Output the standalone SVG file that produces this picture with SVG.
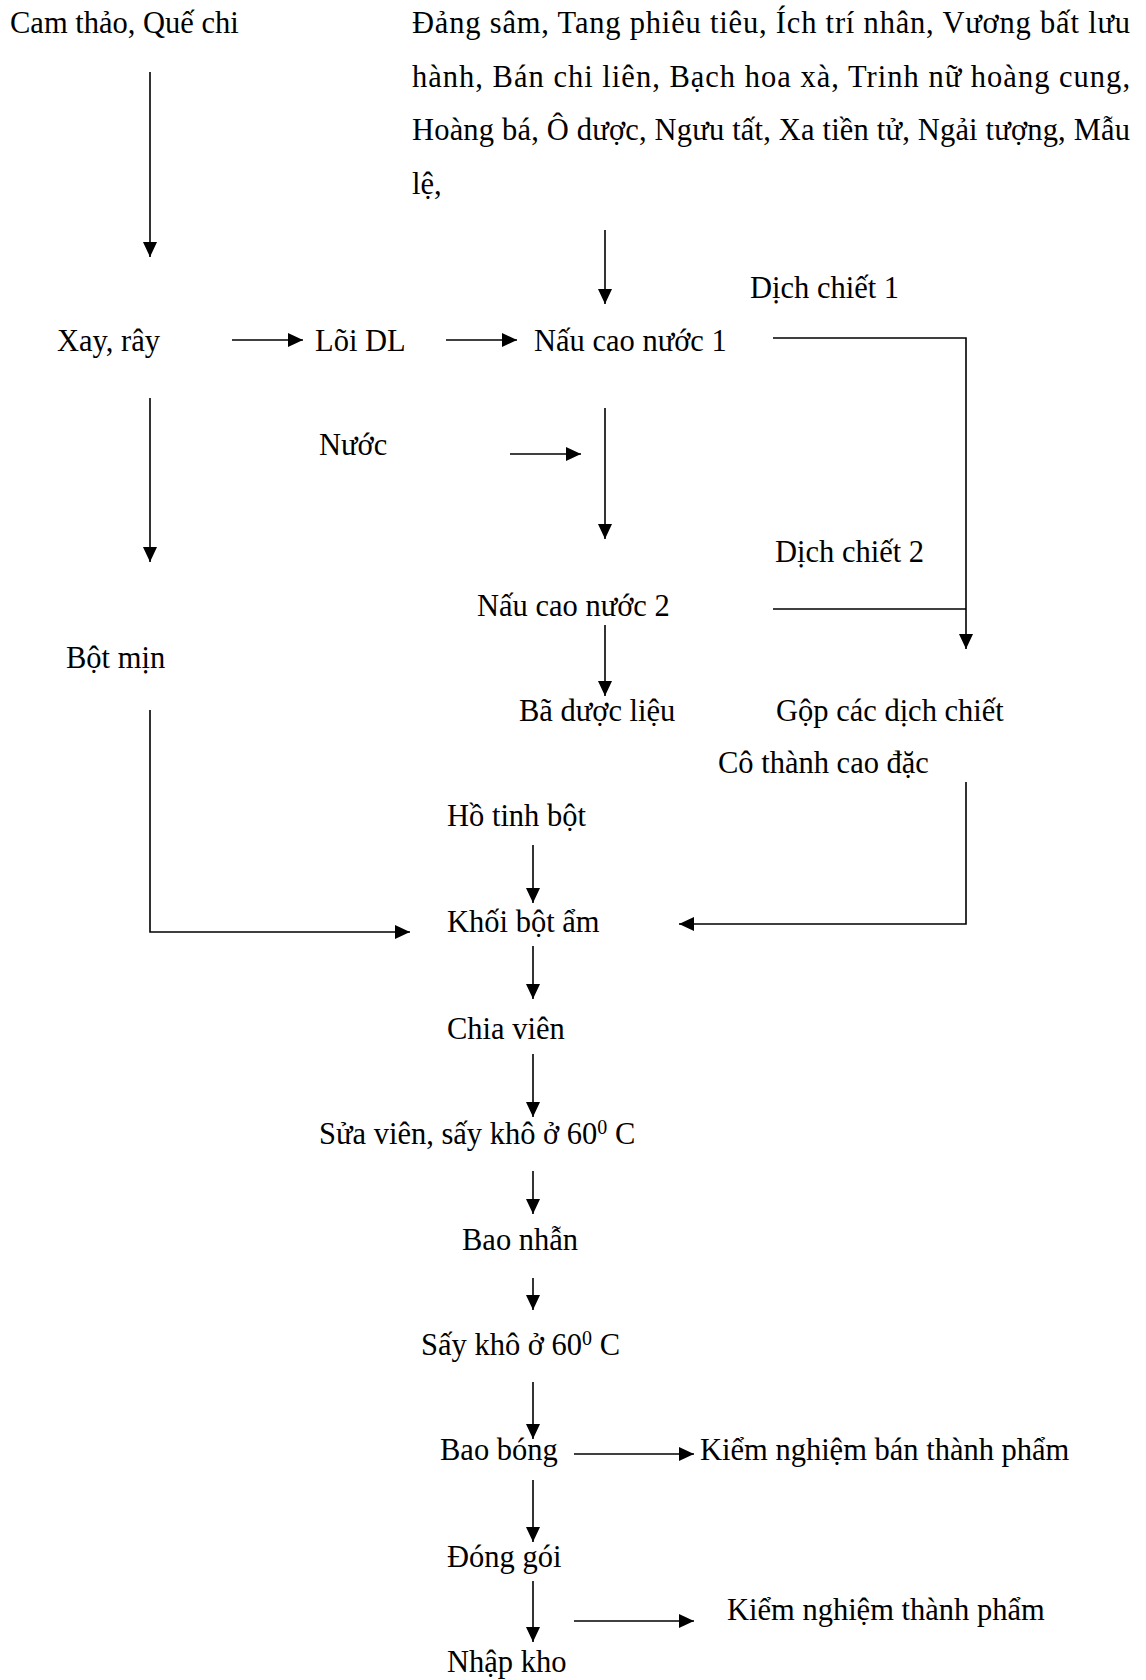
<svg xmlns="http://www.w3.org/2000/svg" width="1146" height="1680" viewBox="0 0 1146 1680">
<style>
  text { font-family: "Liberation Serif", "Times New Roman", serif; font-size: 30.5px; fill: #000; }
  .sup { font-size: 20px; }
  .conn path { fill: none; stroke: #000; stroke-width: 1.6; }
</style>
<defs>
  <marker id="ah" markerUnits="userSpaceOnUse" markerWidth="15" markerHeight="14" refX="15" refY="7" orient="auto" viewBox="0 0 15 14">
    <path d="M0,0 L15,7 L0,14 z" fill="#000"/>
  </marker>
</defs>
<rect width="1146" height="1680" fill="#fff"/>

<g id="n-camthao"><text x="10" y="33">Cam thảo, Quế chi</text></g>
<g id="n-herbs">
  <text x="412" y="33" textLength="718" lengthAdjust="spacing">Đảng sâm, Tang phiêu tiêu, Ích trí nhân, Vương bất lưu</text>
  <text x="412" y="87" textLength="718" lengthAdjust="spacing">hành, Bán chi liên, Bạch hoa xà, Trinh nữ hoàng cung,</text>
  <text x="412" y="140" textLength="718" lengthAdjust="spacing">Hoàng bá, Ô dược, Ngưu tất, Xa tiền tử, Ngải tượng, Mẫu</text>
  <text x="412" y="194">lệ,</text>
</g>
<g id="n-dichchiet1"><text x="750" y="298">Dịch chiết 1</text></g>
<g id="n-xayray"><text x="57" y="351">Xay, rây</text></g>
<g id="n-loidl"><text x="315" y="351">Lõi DL</text></g>
<g id="n-naucao1"><text x="534" y="351">Nấu cao nước 1</text></g>
<g id="n-nuoc"><text x="319" y="455">Nước</text></g>
<g id="n-dichchiet2"><text x="775" y="562">Dịch chiết 2</text></g>
<g id="n-naucao2"><text x="477" y="616">Nấu cao nước 2</text></g>
<g id="n-botmin"><text x="66" y="668">Bột mịn</text></g>
<g id="n-baduoclieu"><text x="519" y="721">Bã dược liệu</text></g>
<g id="n-gop"><text x="776" y="721">Gộp các dịch chiết</text></g>
<g id="n-cothanh"><text x="718" y="773">Cô thành cao đặc</text></g>
<g id="n-hotinhbot"><text x="447" y="826">Hồ tinh bột</text></g>
<g id="n-khoibotam"><text x="447" y="932">Khối bột ẩm</text></g>
<g id="n-chiavien"><text x="447" y="1039">Chia viên</text></g>
<g id="n-suavien"><text x="319" y="1144">Sửa viên, sấy khô ở 60<tspan class="sup" dy="-10">0</tspan><tspan dy="10"> C</tspan></text></g>
<g id="n-baonhan"><text x="462" y="1250">Bao nhẫn</text></g>
<g id="n-saykho"><text x="421" y="1355">Sấy khô ở 60<tspan class="sup" dy="-10">0</tspan><tspan dy="10"> C</tspan></text></g>
<g id="n-baobong"><text x="440" y="1460">Bao bóng</text></g>
<g id="n-knban"><text x="700" y="1460">Kiểm nghiệm bán thành phẩm</text></g>
<g id="n-donggoi"><text x="447" y="1567">Đóng gói</text></g>
<g id="n-knthanh"><text x="727" y="1620">Kiểm nghiệm thành phẩm</text></g>
<g id="n-nhapkho"><text x="447" y="1672">Nhập kho</text></g>

<g id="connectors" class="conn">
  <path d="M150,72 V257" marker-end="url(#ah)"/>
  <path d="M605,230 V304" marker-end="url(#ah)"/>
  <path d="M232,340 H303" marker-end="url(#ah)"/>
  <path d="M446,340 H517" marker-end="url(#ah)"/>
  <path d="M773,338 H966 V649" marker-end="url(#ah)"/>
  <path d="M150,398 V562" marker-end="url(#ah)"/>
  <path d="M510,454 H581" marker-end="url(#ah)"/>
  <path d="M605,408 V539" marker-end="url(#ah)"/>
  <path d="M773,609 H966"/>
  <path d="M605,625 V696" marker-end="url(#ah)"/>
  <path d="M966,782 V924 H679" marker-end="url(#ah)"/>
  <path d="M533,845 V903" marker-end="url(#ah)"/>
  <path d="M150,710 V932 H410" marker-end="url(#ah)"/>
  <path d="M533,946 V999" marker-end="url(#ah)"/>
  <path d="M533,1054 V1117" marker-end="url(#ah)"/>
  <path d="M533,1171 V1214" marker-end="url(#ah)"/>
  <path d="M533,1278 V1310" marker-end="url(#ah)"/>
  <path d="M533,1382 V1439" marker-end="url(#ah)"/>
  <path d="M574,1454 H694" marker-end="url(#ah)"/>
  <path d="M533,1480 V1542" marker-end="url(#ah)"/>
  <path d="M533,1581 V1642" marker-end="url(#ah)"/>
  <path d="M574,1621 H694" marker-end="url(#ah)"/>
</g>
</svg>
